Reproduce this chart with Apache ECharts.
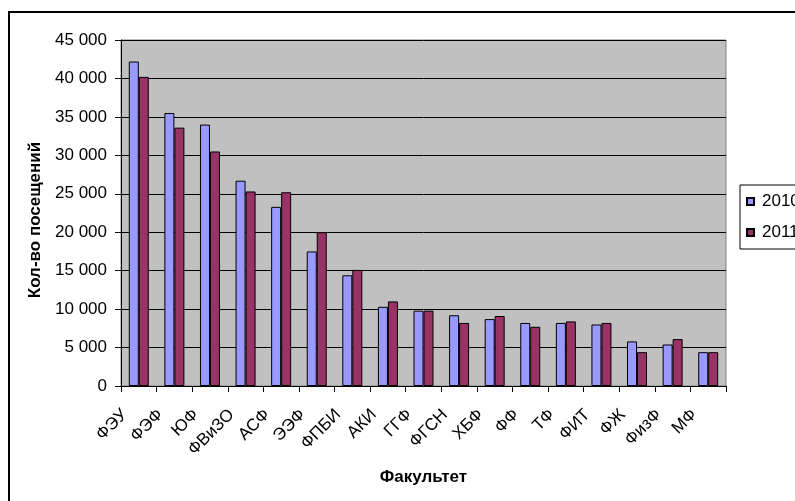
<!DOCTYPE html>
<html>
<head>
<meta charset="utf-8">
<script src="https://cdn.jsdelivr.net/npm/echarts@6/dist/echarts.min.js"></script>
<style>
html,body{margin:0;padding:0;background:#fff;}
#c{width:795px;height:501px;}
</style>
</head>
<body>
<div id="c"></div>
<script>
const categories = ['ФЭУ','ФЭФ','ЮФ','ФВиЗО','АСФ','ЭЭФ','ФПБИ','АКИ','ГГФ','ФГСН','ХБФ','ФФ','ТФ','ФИТ','ФЖ','ФизФ','МФ'];
const values2010 = [42200,35500,34000,26700,23300,17500,14400,10300,9800,9200,8700,8200,8200,8000,5800,5400,4400];
const values2011 = [40200,33600,30500,25300,25200,20000,15100,11000,9800,8200,9100,7700,8400,8200,4400,6100,4400];
const seriesNames = ['2010','2011'];
const yTicks = {min:0, max:45000, interval:5000};

const FONT = "'Liberation Sans', Arial, sans-serif";
const chart = echarts.init(document.getElementById('c'));
const fmt = v => String(v).replace(/\B(?=(\d{3})+(?!\d))/g, ' ');

chart.setOption({
  animation:false,
  backgroundColor:'#ffffff',
  textStyle:{fontFamily:FONT},
  graphic:[{
    type:'rect', silent:true, z:-1,
    shape:{x:9, y:12, width:900, height:600},
    style:{fill:'none', stroke:'#000', lineWidth:2}
  }],
  grid:{left:121, right:69, top:40, bottom:115, show:true, backgroundColor:'#C0C0C0', borderColor:'#808080', borderWidth:1},
  legend:{
    orient:'vertical', left:740, top:185,
    data:seriesNames,
    itemWidth:7, itemHeight:7, itemGap:14,
    padding:[8,40,8,6],
    borderColor:'#000', borderWidth:1, backgroundColor:'#fff',
    icon:'rect',
    textStyle:{fontSize:17, color:'#000', fontFamily:FONT, padding:[0,0,0,3]}
  },
  xAxis:{
    type:'category', data:categories,
    name:'Факультет', nameLocation:'middle', nameGap:83,
    nameTextStyle:{fontSize:17, fontWeight:'bold', color:'#000', fontFamily:FONT},
    axisLine:{lineStyle:{color:'#000', width:1}},
    axisTick:{show:true, length:6, lineStyle:{color:'#000'}},
    axisLabel:{rotate:45, fontSize:17, color:'#000', margin:12, padding:[0,20,0,0], interval:0, fontFamily:FONT}
  },
  yAxis:{
    type:'value', min:yTicks.min, max:yTicks.max, interval:yTicks.interval,
    name:'Кол-во посещений', nameLocation:'middle', nameGap:72, nameRotate:90,
    nameTextStyle:{fontSize:17, fontWeight:'bold', color:'#000', fontFamily:FONT, padding:[0,14,0,0]},
    axisLine:{show:true, lineStyle:{color:'#000', width:1}},
    axisTick:{show:true, length:6, lineStyle:{color:'#000'}},
    axisLabel:{fontSize:17, color:'#000', margin:14, formatter:fmt, fontFamily:FONT},
    splitLine:{show:true, lineStyle:{color:'#000', width:1}}
  },
  series:[
    {name:seriesNames[0], type:'bar', data:values2010, barWidth:10, barGap:'0%',
     itemStyle:{color:'#9999FF', borderColor:'#000', borderWidth:1}},
    {name:seriesNames[1], type:'bar', data:values2011, barWidth:10, barGap:'0%',
     itemStyle:{color:'#993366', borderColor:'#000', borderWidth:1}}
  ]
});
</script>
</body>
</html>
